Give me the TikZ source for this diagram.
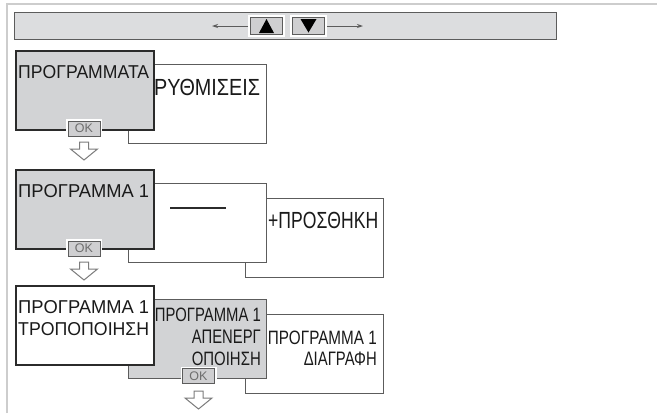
\documentclass[tikz,border=0pt]{standalone}
\usepackage{fontspec}
\setmainfont{Liberation Sans}
\usetikzlibrary{arrows.meta}
\definecolor{boxgray}{HTML}{D2D3D5}
\definecolor{bargray}{HTML}{DCDDDF}
\definecolor{framegray}{HTML}{CDCDCD}
\definecolor{edgedark}{HTML}{2B2B2B}
\definecolor{edgemid}{HTML}{5C5C5C}
\definecolor{okgray}{HTML}{CFCFD1}
\definecolor{oktext}{HTML}{6E6E6E}
\definecolor{arrowgray}{HTML}{7C7C7C}
\definecolor{textcol}{HTML}{1A1A1A}
\newcommand{\fitlabel}[3]{\resizebox{#1}{#2}{#3}}
\tikzset{
  mainbox/.style={draw=edgedark, line width=1.6pt, minimum width=138pt, minimum height=79pt, anchor=north west, inner sep=0pt},
  subbox/.style={draw=edgemid, line width=1pt, fill=white, minimum width=138pt, minimum height=79pt, anchor=north west, inner sep=0pt},
  lbl/.style={font=\fontsize{17}{20}\selectfont, text=textcol, inner sep=0pt},
  okbtn/.style={preaction={draw=white, line width=4pt}, draw=edgemid, line width=0.8pt, fill=okgray, minimum width=32pt, minimum height=15pt, inner sep=0pt, font=\fontsize{12.5}{13}\selectfont, text=oktext},
  navbtn/.style={preaction={draw=white, line width=5pt}, draw=edgemid, line width=0.8pt, fill=okgray, minimum width=32pt, minimum height=17pt, inner sep=0pt},
  hollowarrow/.style={draw=arrowgray, line width=1pt, fill=white, line join=miter},
  navarrow/.style={draw=edgemid, line width=0.9pt, -{Stealth[length=6pt,width=4pt]}}
}
\begin{document}
\begin{tikzpicture}[x=1pt,y=-1pt]
\useasboundingbox (0,0) rectangle (657,413);
\fill[white] (0,0) rectangle (657,413);
\draw[framegray, line width=1.2pt] (7,413) -- (7,4) -- (657,4);

% top navigation bar
\node[draw=edgemid, line width=1pt, fill=bargray, minimum width=542pt, minimum height=27pt, anchor=north west, inner sep=0pt] (bar) at (14,12) {};
\node[navbtn] (up) at (266.5,26) {};
\node[navbtn] (down) at (308.5,26) {};
\fill[black] ([xshift=-7.5pt,yshift=-7pt]up.center) -- ([xshift=7.5pt,yshift=-7pt]up.center) -- ([yshift=7pt]up.center) -- cycle;
\fill[black] ([xshift=-8pt,yshift=7pt]down.center) -- ([xshift=8pt,yshift=7pt]down.center) -- ([yshift=-6.5pt]down.center) -- cycle;
\coordinate (leftend) at (212,26);
\coordinate (rightend) at (363,26);
\draw[navarrow] ([xshift=-2pt]up.west) -- (leftend);
\draw[navarrow] ([xshift=2pt]down.east) -- (rightend);

% row 1
\node[subbox] (settings) at (128,64) {};
\node[mainbox, fill=boxgray] (programs) at (15,50) {};
\node[lbl, anchor=base west] (programstxt) at (18,78) {\fitlabel{131pt}{13pt}{ΠΡΟΓΡΑΜΜΑΤΑ}};
\node[lbl, anchor=base west] (settingstxt) at (154,95) {\fitlabel{106pt}{16.3pt}{ΡΥΘΜΙΣΕΙΣ}};
\node[okbtn] (ok1) at (84,128.5) {OK};
\coordinate (a1) at (84,142);
\draw[hollowarrow] ([xshift=-4.5pt]a1) -- ++(0,7) -- ++(-9,0) -- ++(13.5,11) -- ++(13.5,-11) -- ++(-9,0) -- ++(0,-7) -- cycle;

% row 2
\node[subbox] (add) at (245,198) {};
\node[subbox] (empty) at (128,183) {};
\node[mainbox, fill=boxgray] (prog1) at (15,169) {};
\node[lbl, anchor=base west] (prog1txt) at (18,197) {\fitlabel{131pt}{13pt}{ΠΡΟΓΡΑΜΜΑ 1}};
\coordinate (blankL) at (170,208);
\coordinate (blankR) at (226,208);
\draw[edgedark, line width=1.5pt] (blankL) -- (blankR);
\node[lbl, anchor=base west] (addtxt) at (268,228) {\fitlabel{110pt}{16.3pt}{+ΠΡΟΣΘΗΚΗ}};
\node[okbtn] (ok2) at (84,248.5) {OK};
\coordinate (a2) at (84,262);
\draw[hollowarrow] ([xshift=-4.5pt]a2) -- ++(0,7) -- ++(-9,0) -- ++(13.5,11) -- ++(13.5,-11) -- ++(-9,0) -- ++(0,-7) -- cycle;

% row 3
\node[subbox] (delete) at (245,314) {};
\node[subbox, fill=boxgray] (disable) at (128,299) {};
\node[mainbox, fill=white] (modify) at (15,285) {};
\node[lbl, anchor=base west] (modtxta) at (18,313) {\fitlabel{131pt}{13pt}{ΠΡΟΓΡΑΜΜΑ 1}};
\node[lbl, anchor=base west] (modtxtb) at (18,335) {\fitlabel{131pt}{13pt}{ΤΡΟΠΟΠΟΙΗΣΗ}};
\node[lbl, anchor=base east] (distxta) at (261,321) {\fitlabel{106pt}{13.5pt}{ΠΡΟΓΡΑΜΜΑ 1}};
\node[lbl, anchor=base east] (distxtb) at (261,343) {\fitlabel{69pt}{13.5pt}{ΑΠΕΝΕΡΓ}};
\node[lbl, anchor=base east] (distxtc) at (261,365) {\fitlabel{69pt}{13.5pt}{ΟΠΟΙΗΣΗ}};
\node[lbl, anchor=base east] (deltxta) at (377,344) {\fitlabel{109pt}{13.5pt}{ΠΡΟΓΡΑΜΜΑ 1}};
\node[lbl, anchor=base east] (deltxtb) at (377,365) {\fitlabel{73pt}{13.5pt}{ΔΙΑΓΡΑΦΗ}};
\node[okbtn] (ok3) at (198.5,376) {OK};
\coordinate (a3) at (198.5,391);
\draw[hollowarrow] ([xshift=-4.5pt]a3) -- ++(0,7) -- ++(-9,0) -- ++(13.5,11) -- ++(13.5,-11) -- ++(-9,0) -- ++(0,-7) -- cycle;
\end{tikzpicture}
\end{document}
